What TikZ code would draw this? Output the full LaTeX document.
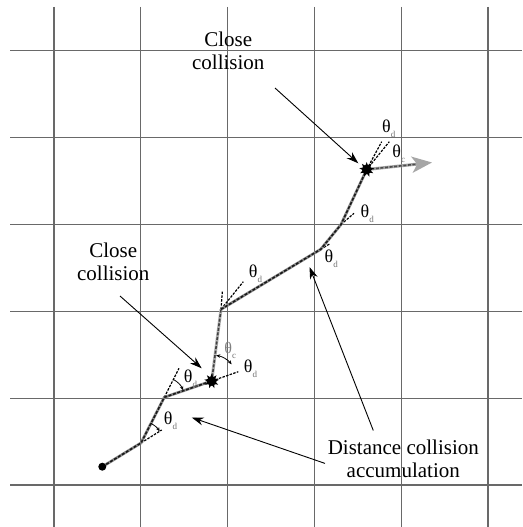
\documentclass[tikz,border=0pt]{standalone}
\usepackage{fontspec}
\setmainfont{Liberation Serif}
\newfontfamily\lserif{Liberation Serif}
\usetikzlibrary{arrows.meta,shapes.geometric}
\newcommand{\thl}[2][black]{\textcolor{#1}{θ}\rlap{\smash{\raisebox{-5pt}{\fontsize{9}{9}\selectfont\lserif\color{black!55}#2}}}}
\begin{document}
\begin{tikzpicture}[x=1pt,y=1pt,
 gridline/.style={line width=1.3pt, draw={rgb,255:red,105;green,105;blue,105}},
 trackbase/.style={line width=2.8pt, draw=black!45},
 tracklight/.style={line width=3pt, draw=black!30},
 trackdash/.style={line width=1.6pt, draw=black!90, dash pattern=on 3pt off 1.6pt},
 extline/.style={line width=1.2pt, draw=black, dash pattern=on 2.5pt off 1.3pt},
 ptr/.style={line width=0.9pt, -{Stealth[length=12pt,width=8pt]}},
 arcptr/.style={line width=0.8pt, -{Stealth[length=4pt,width=3.5pt]}},
 arcdbl/.style={line width=0.8pt, {Stealth[length=4pt,width=3.5pt]}-{Stealth[length=4pt,width=3.5pt]}},
 thlabel/.style={font=\lserif\fontsize{18}{18}\selectfont, inner sep=0pt},
 caption/.style={font=\lserif\fontsize{21}{23}\selectfont, align=center, inner sep=0pt},
 burst/.style={star, star points=9, star point ratio=1.9, minimum size=15pt, fill=black, inner sep=0pt},
]
\useasboundingbox (0,0) rectangle (522,-527);
\fill[white] (0,0) rectangle (522,-527);

% grid
\foreach \gx in {54,140.8,227.6,314.4,401.2,488}
  \draw[gridline] (\gx,-7) -- (\gx,-527);
\foreach \gy in {50.6,137.5,224.4,311.3,398.2,485.1}
  \draw[gridline] (10,-\gy) -- (522,-\gy);

% track points
\coordinate (S)  at (102.3,-466.7);
\coordinate (P1) at (141,-443);
\coordinate (P2) at (164.3,-397.3);
\coordinate (P3) at (211.7,-381);
\coordinate (P4) at (221,-309.3);
\coordinate (P5) at (320.7,-249.3);
\coordinate (P6) at (341,-224.5);
\coordinate (P7) at (366.7,-169.5);
\coordinate (E)  at (432,-162.5);

% extension points
\coordinate (E1)  at (161.7,-430);
\coordinate (E2)  at (179,-368.3);
\coordinate (E3)  at (238.3,-371.7);
\coordinate (E4a) at (222.3,-291.7);
\coordinate (E4b) at (243.3,-281.7);
\coordinate (E5)  at (330,-243.7);
\coordinate (E6)  at (354,-213.3);
\coordinate (E7a) at (381.7,-141.7);
\coordinate (E7b) at (389.3,-141.7);

% dashed extension lines
\draw[extline] (P1) -- (E1);
\draw[extline] (P2) -- (E2);
\draw[extline] (P3) -- (E3);
\draw[extline] (P4) -- (E4a);
\draw[extline] (P4) -- (E4b);
\draw[extline] (P5) -- (E5);
\draw[extline] (P6) -- (E6);
\draw[extline] (P7) -- (E7a);
\draw[extline] (P7) -- (E7b);

% track
\draw[trackbase] (S) -- (P1) -- (P2) -- (P3);
\draw[trackdash] (S) -- (P1) -- (P2) -- (P3);
\draw[tracklight] (P3) -- (P4);
\draw[trackdash, draw=black!75] (P3) -- (P4);
\draw[trackbase] (P4) -- (P5) -- (P6) -- (P7);
\draw[trackdash] (P4) -- (P5) -- (P6) -- (P7);
\draw[line width=3pt, draw=black!35, -{Stealth[length=20pt,width=16pt,inset=5pt]}] (P7) -- (E);
\draw[trackdash, draw=black!70, shorten >=16pt] (P7) -- (E);

% angle arcs
\draw[arcptr] ([shift={(63:22)}]P1) arc[start angle=63, end angle=32, radius=22];
\draw[arcptr] ([shift={(63:20)}]P2) arc[start angle=63, end angle=21, radius=20];
\draw[arcdbl] ([shift={(80:26)}]P3) arc[start angle=80, end angle=40, radius=26];

% start and collisions
\fill (S) circle (4pt);
\node[burst] (col1) at (P3) {};
\fill (P3) circle (4.8pt);
\node[burst] (col2) at (P7) {};
\fill (P7) circle (4.8pt);

% theta labels
\node[thlabel] (t1)  at (168.3,-418.3) {\thl{d}};
\node[thlabel] (t2)  at (188.3,-376)   {\thl{d}};
\node[thlabel] (t3d) at (248.3,-366.7) {\thl{d}};
\node[thlabel, font=\lserif\fontsize{16}{16}\selectfont] (t3c) at (228.3,-348.3) {\thl[black!50]{c}};
\node[thlabel] (t4)  at (253.3,-271)   {\thl{d}};
\node[thlabel] (t5)  at (329,-256)     {\thl{d}};
\node[thlabel] (t6)  at (365,-211.7)   {\thl{d}};
\node[thlabel] (t7d) at (386.5,-126)   {\thl{d}};
\node[thlabel] (t7c) at (396.7,-151.7) {\thl{c}};

% captions
\node[caption] (cc1) at (228.3,-50.5) {Close\\collision};
\node[caption] (cc2) at (113.3,-261.8) {Close\\collision};
\node[caption] (dca) at (403.3,-458.8) {Distance collision\\accumulation};

% pointers
\coordinate (a1s) at (275,-88);
\coordinate (a1e) at (358.3,-163.3);
\coordinate (a2s) at (120,-296);
\coordinate (a2e) at (201.7,-368.3);
\coordinate (a3s) at (373.3,-430.5);
\coordinate (a3e) at (309.5,-267);
\coordinate (a4s) at (325,-463.4);
\coordinate (a4e) at (191.7,-417.5);
\draw[ptr] (a1s) -- (a1e);
\draw[ptr] (a2s) -- (a2e);
\draw[ptr] (a3s) -- (a3e);
\draw[ptr] (a4s) -- (a4e);
\end{tikzpicture}
\end{document}
